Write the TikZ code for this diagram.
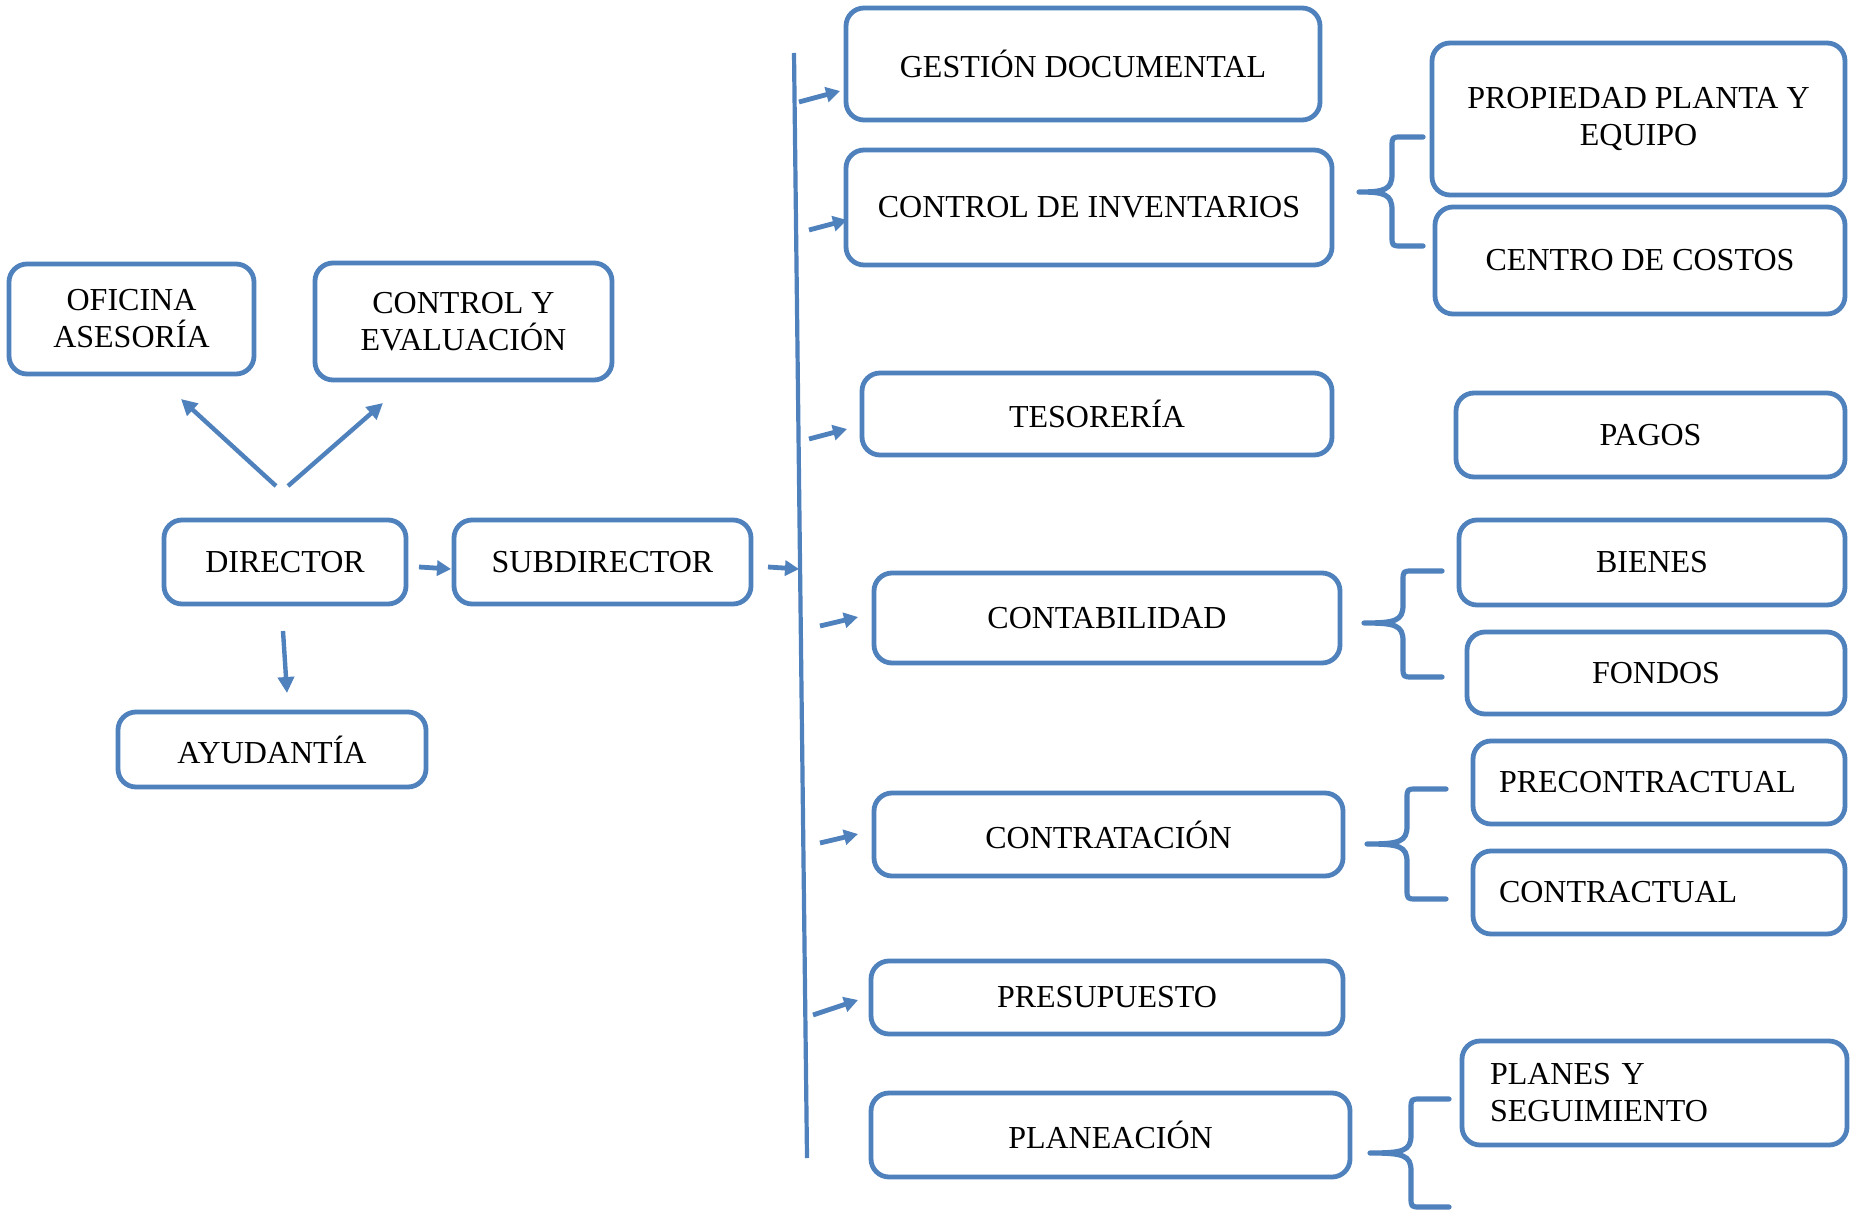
\documentclass[tikz,border=0pt]{standalone}
\usepackage{fontspec}
\setmainfont{Liberation Serif}
\usetikzlibrary{arrows.meta}
\definecolor{ob}{HTML}{4F81BD}
% \obox[opts]{name}{x1}{y1}{x2}{y2}{text}  (pixel coordinates)
\newcommand\obox[7][]{%
  \node[box,minimum width={(#5-#3)*0.5pt},minimum height={(#6-#4)*0.5pt},#1]
    (#2) at ({(#3+#5)/2},{(#4+#6)/2}) {#7};}
% \obrace{end x}{top y}{mid y}{bottom y}{spine x}{tip x}
\newcommand\obrace[6]{%
  \draw[bracestyle] (#1,#2) -- ({#5+10},#2) .. controls (#5,#2) .. (#5,{#2+10})
    -- (#5,{#3-18}) .. controls (#5,{#3-2}) and ({#5-8},#3) .. (#6,#3)
    .. controls ({#5-8},#3) and (#5,{#3+2}) .. (#5,{#3+18}) -- (#5,{#4-10})
    .. controls (#5,#4) .. ({#5+10},#4) -- (#1,#4);}
\begin{document}
\begin{tikzpicture}[x=0.5pt,y=-0.5pt,
  box/.style={draw=ob,line width=2.4pt,rounded corners=9pt,inner sep=0pt,align=center,
    fill=white,font=\fontsize{16}{18.5}\selectfont},
  leftbox/.style={align=left,inner xsep=13pt,text width={(#1)*0.5pt-26pt}},
  arr/.style={draw=ob,line width=2.2pt,-{Triangle[length=8pt,width=8pt]}},
  sarr/.style={draw=ob,line width=2.4pt,-{Triangle[length=7pt,width=7.5pt]}},
  busline/.style={draw=ob,line width=2.1pt},
  bracestyle/.style={draw=ob,line width=2.6pt,line cap=round,line join=round}]
\fill[white] (0,0) rectangle (1850,1213);
\useasboundingbox (0,0) rectangle (1850,1213);

% left part
\obox{ofi}{9}{264}{254}{374}{OFICINA\\ASESORÍA}
\obox{cye}{315}{263}{612}{380}{CONTROL Y\\EVALUACIÓN}
\obox{dir}{164}{520}{406}{604}{DIRECTOR}
\obox{sub}{454}{520}{751}{604}{SUBDIRECTOR}
\obox{ayu}{118}{712}{426}{787}{AYUDANTÍA}

% middle column
\obox{gd}{846}{8}{1320}{120}{GESTIÓN DOCUMENTAL}
\obox{ci}{846}{150}{1332}{265}{CONTROL DE INVENTARIOS}
\obox{tes}{862}{373}{1332}{455}{TESORERÍA}
\obox{cont}{874}{573}{1340}{663}{CONTABILIDAD}
\obox{contr}{874}{793}{1343}{876}{CONTRATACIÓN}
\obox{pres}{871}{961}{1343}{1034}{PRESUPUESTO}
\obox{plan}{871}{1093}{1350}{1177}{PLANEACIÓN}

% right column
\obox{ppe}{1432}{43}{1845}{195}{PROPIEDAD PLANTA Y\\EQUIPO}
\obox{cc}{1435}{207}{1845}{314}{CENTRO DE COSTOS}
\obox{pag}{1456}{393}{1845}{477}{PAGOS}
\obox{bie}{1459}{520}{1845}{605}{BIENES}
\obox{fon}{1467}{632}{1845}{714}{FONDOS}
\obox[leftbox=372]{pre}{1473}{741}{1845}{824}{PRECONTRACTUAL}
\obox[leftbox=372]{ctl}{1473}{851}{1845}{934}{CONTRACTUAL}
\obox[leftbox=381,inner xsep=14pt]{pys}{1464}{1041}{1845}{1145}{PLANES Y\\SEGUIMIENTO}

% bus
\coordinate (busT) at (794,53);
\coordinate (busB) at (807,1158);
\draw[busline] (busT) -- (busB);

% arrows from director
\coordinate (d1) at (276,486); \coordinate (o1) at (181,399);
\coordinate (d2) at (288,486); \coordinate (c1) at (383,403);
\coordinate (d3) at (283,631); \coordinate (y1) at (287,693);
\draw[arr] (d1) -- (o1);
\draw[arr] (d2) -- (c1);
\draw[arr] (d3) -- (y1);
\coordinate (ds1) at (419,567); \coordinate (ds2) at (451,569);
\draw[sarr] (ds1) -- (ds2);
\coordinate (sb1) at (768,567); \coordinate (sb2) at (799,569);
\draw[sarr] (sb1) -- (sb2);

% arrows from bus
\coordinate (g1) at (799,102);  \coordinate (g2) at (840,91);
\coordinate (i1) at (809,230);  \coordinate (i2) at (847,220);
\coordinate (t1) at (809,439);  \coordinate (t2) at (847,429);
\coordinate (k1) at (820,626);  \coordinate (k2) at (858,617);
\coordinate (n1) at (820,843);  \coordinate (n2) at (858,834);
\coordinate (p1) at (813,1015); \coordinate (p2) at (858,1000);
\draw[sarr] (g1) -- (g2);
\draw[sarr] (i1) -- (i2);
\draw[sarr] (t1) -- (t2);
\draw[sarr] (k1) -- (k2);
\draw[sarr] (n1) -- (n2);
\draw[sarr] (p1) -- (p2);

% braces
\obrace{1423}{137}{192}{246}{1392}{1359}
\obrace{1442}{571}{623}{677}{1403}{1364}
\obrace{1446}{789}{844}{899}{1407}{1367}
\obrace{1449}{1099}{1153}{1207}{1411}{1370}
\end{tikzpicture}
\end{document}
